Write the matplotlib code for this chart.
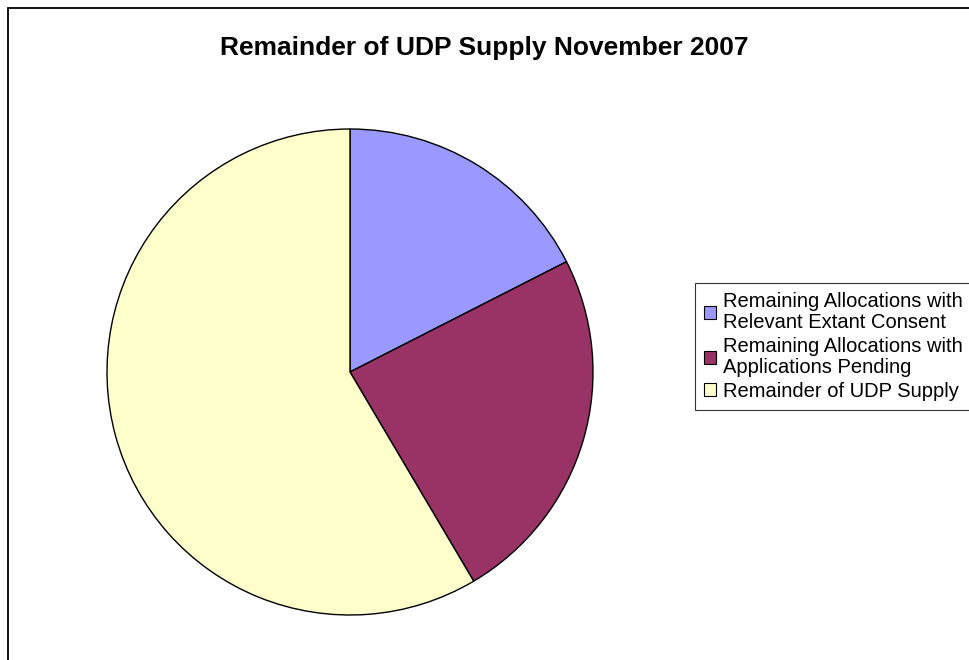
import matplotlib.pyplot as plt
from matplotlib.patches import Rectangle

plt.rcParams['font.family'] = ['Liberation Sans', 'DejaVu Sans']

# UDP supply split, November 2007 (share of total)
labels = ['Remaining Allocations with\nRelevant Extant Consent',
          'Remaining Allocations with\nApplications Pending',
          'Remainder of UDP Supply']
shares = [17.5, 24.0, 58.5]
colours = ['#9999FF', '#993366', '#FFFFCC']

fig = plt.figure(figsize=(9.69, 6.6), dpi=100)

# outer chart frame (only top and left edges fall inside the image)
fig.patches.append(Rectangle((8 / 969, -0.1), 1.2, (660 - 8) / 660 + 0.1,
                             transform=fig.transFigure, fill=False,
                             edgecolor='black', linewidth=1.3))

cx, cy, r = 350, 372, 243
ax = fig.add_axes([(cx - r) / 969, (660 - cy - r) / 660, 2 * r / 969, 2 * r / 660])
wedges, _ = ax.pie(shares, colors=colours, startangle=90, counterclock=False,
                   wedgeprops=dict(edgecolor='black', linewidth=1.0))
ax.set_xlim(-1, 1)
ax.set_ylim(-1, 1)
ax.set_aspect('equal')

fig.text(484 / 969, 1 - 48 / 660, 'Remainder of UDP Supply November 2007',
         ha='center', va='center', fontsize=19, fontweight='bold')

leg = fig.legend(wedges, labels, loc='upper left',
                 bbox_to_anchor=(695 / 969, 1 - 283 / 660),
                 fontsize=14.5, frameon=True, fancybox=False,
                 edgecolor='black', handlelength=0.6, handleheight=0.6,
                 handletextpad=0.35, labelspacing=0.25, borderpad=0.45,
                 borderaxespad=0)
leg.get_frame().set_linewidth(0.8)
for t in leg.get_texts():
    t.set_linespacing(1.12)
for h in leg.legend_handles:
    h.set_edgecolor('black')
    h.set_linewidth(0.8)

fig.savefig('out.png', dpi=100)
